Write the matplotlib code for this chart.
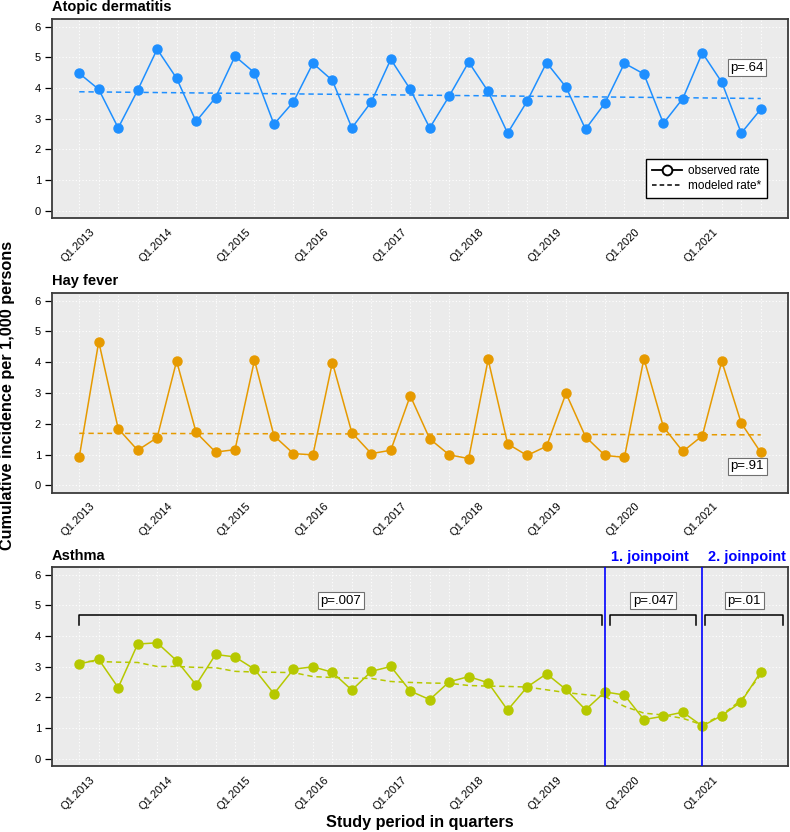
import matplotlib
matplotlib.use("Agg")
import matplotlib.pyplot as plt
from matplotlib.lines import Line2D
from matplotlib.transforms import ScaledTranslation

plt.rcParams['font.family'] = ['Liberation Sans', 'DejaVu Sans']

# quarters Q1.2013 ... Q4.2021
quarters = list(range(36))
year_ticks = [0, 4, 8, 12, 16, 20, 24, 28, 32]
year_labels = ['Q1.2013', 'Q1.2014', 'Q1.2015', 'Q1.2016', 'Q1.2017',
               'Q1.2018', 'Q1.2019', 'Q1.2020', 'Q1.2021']

atopic = [4.48, 3.96, 2.70, 3.93, 5.27, 4.32, 2.91, 3.69, 5.04, 4.50, 2.82, 3.55,
          4.81, 4.25, 2.70, 3.55, 4.94, 3.96, 2.70, 3.74, 4.85, 3.89, 2.53, 3.57,
          4.83, 4.03, 2.66, 3.51, 4.81, 4.46, 2.85, 3.66, 5.15, 4.19, 2.53, 3.31]
atopic_model = [3.88, 3.66]   # first and last quarter of the fitted line

hayfever = [0.92, 4.67, 1.84, 1.14, 1.55, 4.04, 1.72, 1.08, 1.16, 4.07, 1.61, 1.03,
            0.99, 3.99, 1.71, 1.03, 1.14, 2.91, 1.51, 0.99, 0.87, 4.09, 1.35, 0.97,
            1.27, 2.99, 1.58, 0.97, 0.91, 4.12, 1.90, 1.10, 1.61, 4.03, 2.02, 1.07]
hayfever_model = [1.69, 1.64]

asthma = [3.09, 3.24, 2.32, 3.74, 3.78, 3.20, 2.41, 3.40, 3.32, 2.92, 2.12, 2.92,
          3.00, 2.82, 2.24, 2.85, 3.01, 2.21, 1.93, 2.51, 2.68, 2.48, 1.59, 2.34,
          2.77, 2.26, 1.60, 2.18, 2.08, 1.28, 1.39, 1.52, 1.07, 1.41, 1.86, 2.83]
asthma_model = [3.18, 3.17, 3.15, 3.14, 3.01, 3.01, 2.98, 2.97, 2.85, 2.83, 2.82, 2.81,
                2.68, 2.65, 2.63, 2.62, 2.52, 2.49, 2.47, 2.46, 2.39, 2.37, 2.36, 2.34,
                2.25, 2.16, 2.09, 2.03, 1.71, 1.49, 1.43, 1.32, 1.11, 1.43, 1.92, 2.74]
joinpoints = [27, 32]
segments = [(0, 26.85), (27.25, 31.7), (32.15, 36.15)]
segment_p = ['p=.007', 'p=.047', 'p=.01']

blue = '#1E8FFF'
orange = '#E69A00'
green = '#B6C800'

fig = plt.figure(figsize=(7.9, 8.32), dpi=100)


def make_panel(rect, title, title_pad=6):
    ax = fig.add_axes(rect)
    ax.set_facecolor('#EBEBEB')
    for q in quarters:
        ax.axvline(q, color='white', lw=0.8, ls=(0, (1, 2)), zorder=0)
    for v in range(7):
        ax.axhline(v, color='white', lw=0.8, ls=(0, (1, 2)), zorder=0)
    ax.set_xlim(-1.4, 36.4)
    ax.set_ylim(-0.24, 6.24)
    ax.set_yticks(range(7))
    ax.tick_params(axis='y', length=5, width=0.9, pad=3, labelsize=8)
    ax.set_xticks(year_ticks)
    ax.set_xticklabels(year_labels, rotation=45, ha='right', va='center',
                       rotation_mode='anchor', fontsize=8)
    ax.tick_params(axis='x', length=0, pad=0)
    offset = ScaledTranslation(0.14, -0.12, fig.dpi_scale_trans)
    for lab in ax.get_xticklabels():
        lab.set_transform(lab.get_transform() + offset)
    for s in ax.spines.values():
        s.set_color('#3a3a3a')
        s.set_linewidth(1.3)
    ax.set_title(title, loc='left', fontsize=10.5, fontweight='bold', pad=title_pad)
    return ax


def p_box(ax, x, y, txt):
    ax.text(x, y, txt, ha='center', va='center', fontsize=9.5, zorder=5,
            bbox=dict(boxstyle='square,pad=0.2', fc='white', ec='#707070', lw=0.8))


left = 52 / 790
width = 736 / 790

# Atopic dermatitis
ax1 = make_panel([left, 0.738, width, 0.2386], 'Atopic dermatitis')
ax1.plot(quarters, atopic, '-o', color=blue, lw=1.1, ms=6.5, zorder=3)
ax1.plot([quarters[0], quarters[-1]], atopic_model, color=blue, lw=1.1,
         dashes=(3.5, 2.5), zorder=2)
p_box(ax1, 34.3, 4.67, 'p=.64')
handles = [Line2D([], [], color='black', lw=1.3, marker='o', ms=7,
                  mfc='white', mec='black', mew=1.4),
           Line2D([], [], color='black', lw=1.1, dashes=(3, 2))]
leg = ax1.legend(handles, ['observed rate', 'modeled rate*'], loc='lower right',
                 bbox_to_anchor=(0.972, 0.1), borderaxespad=0, fontsize=8.5,
                 fancybox=False, framealpha=1, edgecolor='black',
                 handlelength=2.6, handletextpad=0.5, labelspacing=0.25,
                 borderpad=0.5)
leg.get_frame().set_linewidth(1.0)

# Hay fever
ax2 = make_panel([left, 0.4078, width, 0.2397], 'Hay fever')
ax2.plot(quarters, hayfever, '-o', color=orange, lw=1.1, ms=6.5, zorder=3)
ax2.plot([quarters[0], quarters[-1]], hayfever_model, color=orange, lw=1.1,
         dashes=(3.5, 2.5), zorder=2)
p_box(ax2, 34.3, 0.62, 'p=.91')

# Asthma
ax3 = make_panel([left, 0.079, width, 0.2392], 'Asthma', title_pad=5)
ax3.plot(quarters, asthma, '-o', color=green, lw=1.1, ms=6.5, zorder=3)
bounds = [0] + joinpoints + [quarters[-1]]
for a, b in zip(bounds[:-1], bounds[1:]):
    ax3.plot(quarters[a:b + 1], asthma_model[a:b + 1], color=green, lw=1.1,
             dashes=(3.5, 2.5), zorder=2)
for j, jp in enumerate(joinpoints):
    ax3.axvline(jp, color='#0000FF', lw=1.2, zorder=4)
    ax3.text(jp + 0.3, 1.05, f'{j + 1}. joinpoint', transform=ax3.get_xaxis_transform(),
             color='#0000FF', fontsize=10.5, fontweight='bold', ha='left', va='center')
for (a, b), p in zip(segments, segment_p):
    ax3.plot([a, a, b, b], [4.37, 4.70, 4.70, 4.37], color='black', lw=1.1, zorder=4)
    p_box(ax3, (a + b) / 2, 5.15, p)

fig.text(0.0101, 0.5246, 'Cumulative incidence per 1,000 persons', rotation=90,
         ha='center', va='center', fontsize=11.7, fontweight='bold')
fig.text(0.5316, 0.012, 'Study period in quarters', ha='center', va='center',
         fontsize=11.7, fontweight='bold')

fig.savefig('out.png', dpi=100)
